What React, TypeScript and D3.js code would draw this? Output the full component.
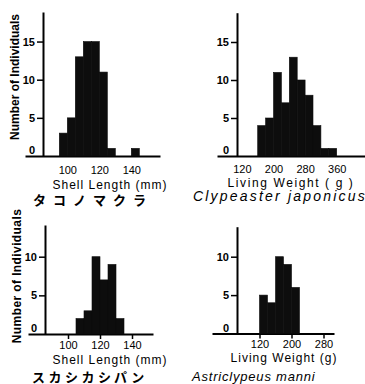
import React, { useEffect, useRef } from 'react'
import { select, scaleLinear, axisLeft, axisBottom } from 'd3'

// タコノマクラ - shell length (mm), 5 mm classes
const takoBins = [95, 100, 105, 110, 115, 120, 125, 130, 135, 140]
const takoCounts = [3, 5, 13, 15, 15, 11, 1, 0, 0, 1]
const takoTicks = [100, 120, 140]

// Clypeaster japonicus - living weight (g), 20 g classes
const clypeBins = [160, 180, 200, 220, 240, 260, 280, 300, 320, 340]
const clypeCounts = [4, 5, 11, 7, 13, 10, 8, 4, 1, 1]
const clypeTicks = [120, 200, 280, 360]

// スカシカシパン - shell length (mm)
const sukaBins = [105, 110, 115, 120, 125, 130]
const sukaCounts = [2, 3, 10, 7, 9, 2]
const sukaTicks = [100, 120, 140]

// Astriclypeus manni - living weight (g)
const astriBins = [120, 140, 160, 180, 200]
const astriCounts = [5, 4, 10, 9, 6]
const astriTicks = [120, 200, 280]

const topCountTicks = [0, 5, 10, 15]
const bottomCountTicks = [0, 5, 10]

const FONT = 'Arial, "Liberation Sans", sans-serif'
const JP = '"Noto Sans CJK JP", sans-serif'
const INK = '#0d0d0d'

const Hist = (props) => {
  const { bins, counts, binWidth, xTicks, yTicks, frame } = props
  const ref = useRef()

  useEffect(() => {
    const g = select(ref.current)
    const f = frame

    // calibrate on two known values, then stretch out to the drawn axis length
    const x = scaleLinear().domain(f.xCal).range(f.pxCal)
    x.domain([x.invert(f.left), x.invert(f.right)]).range([f.left, f.right])

    const y = scaleLinear().domain([0, 10]).range([f.y0, f.y0 - 10 * f.yUnit])
    y.domain([0, y.invert(f.top)]).range([f.y0, f.top])

    g.selectAll('.bar')
      .data(counts)
      .join('rect')
      .attr('class', 'bar')
      .attr('x', (d, i) => x(bins[i]))
      .attr('width', (d, i) => x(bins[i] + binWidth) - x(bins[i]))
      .attr('y', d => y(d))
      .attr('height', d => y(0) - y(d))
      .attr('fill', INK)
      .attr('stroke', d => (d > 0 ? INK : 'none'))
      .attr('stroke-width', 0.6)

    const xAxis = axisBottom(x).tickValues(xTicks).tickSize(f.xTickSize).tickSizeOuter(0).tickPadding(f.xPad)
    const xg = g.select('.x-axis')
      .attr('transform', `translate(0,${f.y0})`)
      .call(xAxis)
    xg.select('.domain').attr('stroke', '#000').attr('stroke-width', 2)
    xg.selectAll('.tick line').attr('stroke', '#000').attr('stroke-width', 1.5)
    xg.selectAll('.tick text')
      .attr('fill', '#000')
      .style('font-family', FONT)
      .style('font-size', '11px')
    xg.attr('font-family', null).attr('font-size', null)

    const yAxis = axisLeft(y).tickValues(yTicks).tickSize(6).tickSizeOuter(0).tickPadding(2)
    const yg = g.select('.y-axis')
      .attr('transform', `translate(${f.axisX},0)`)
      .call(yAxis)
    yg.select('.domain').attr('stroke', '#000').attr('stroke-width', 2)
    yg.selectAll('.tick line').attr('stroke', '#000').attr('stroke-width', 1.5)
    yg.selectAll('.tick text')
      .attr('fill', '#000')
      .style('font-family', FONT)
      .style('font-size', '11px')
      .style('font-weight', 'bold')
    yg.attr('font-family', null).attr('font-size', null)
    // the zero label sits above the baseline, with no tick
    const zero = yg.selectAll('.tick').filter(d => d === 0)
    zero.select('line').remove()
    zero.select('text').attr('y', -6)
  }, [bins, counts, binWidth, xTicks, yTicks, frame])

  return (
    <g ref={ref}>
      <g className='x-axis' />
      <g className='y-axis' />
    </g>
  )
}

const frames = {
  tl: { left: 25, right: 160, axisX: 43, xCal: [95, 145], pxCal: [59.3, 139.3], y0: 156, yUnit: 7.63, top: 12, xTickSize: 0, xPad: 10 },
  tr: { left: 217, right: 365, axisX: 237, xCal: [160, 360], pxCal: [257.7, 336.7], y0: 156, yUnit: 7.6, top: 12.7, xTickSize: 0, xPad: 9 },
  bl: { left: 28, right: 153, axisX: 45, xCal: [100, 140], pxCal: [68, 132], y0: 334, yUnit: 7.73, top: 225, xTickSize: 5, xPad: 2 },
  br: { left: 212, right: 334, axisX: 237, xCal: [120, 220], pxCal: [259.5, 299.5], y0: 333.5, yUnit: 7.68, top: 226.7, xTickSize: 5, xPad: 2 },
}

const App = () => {
  const axisTitle = { fontFamily: FONT, fontSize: 12, letterSpacing: 1, fill: '#000' }
  const yTitle = { fontFamily: FONT, fontSize: 12, fontWeight: 'bold', fill: '#000' }
  const latin = { fontFamily: FONT, fontSize: 14, fontStyle: 'italic', fill: '#000' }
  const kana = { fontFamily: JP, fontSize: 13, fontWeight: 'bold', fill: '#000' }

  return (
    <svg width={365} height={384} style={{ position: 'absolute', left: 0, top: 0, background: '#fff' }}>
      <rect width={365} height={384} fill='#fff' />

      <Hist bins={takoBins} counts={takoCounts} binWidth={5} xTicks={takoTicks} yTicks={topCountTicks} frame={frames.tl} />
      <Hist bins={clypeBins} counts={clypeCounts} binWidth={20} xTicks={clypeTicks} yTicks={topCountTicks} frame={frames.tr} />
      <Hist bins={sukaBins} counts={sukaCounts} binWidth={5} xTicks={sukaTicks} yTicks={bottomCountTicks} frame={frames.bl} />
      <Hist bins={astriBins} counts={astriCounts} binWidth={20} xTicks={astriTicks} yTicks={bottomCountTicks} frame={frames.br} />

      <text transform='translate(19,77) rotate(-90)' textAnchor='middle' style={yTitle}>Number of Individuals</text>
      <text transform='translate(21,276) rotate(-90)' textAnchor='middle' style={{ ...yTitle, letterSpacing: 0.4 }}>Number of Individuals</text>

      <text x={110} y={189} textAnchor='middle' style={axisTitle}>Shell Length (mm)</text>
      <text x={291} y={187} textAnchor='middle' style={{ ...axisTitle, letterSpacing: 1.6 }}>Living Weight ( g )</text>
      <text x={110} y={364} textAnchor='middle' style={axisTitle}>Shell Length (mm)</text>
      <text x={284} y={362} textAnchor='middle' style={axisTitle}>Living Weight (g)</text>

      <text x={33} y={205} style={{ ...kana, letterSpacing: 7 }}>タコノマクラ</text>
      <text x={193} y={201} style={{ ...latin, letterSpacing: 2.2 }}>Clypeaster  japonicus</text>
      <text x={32} y={382} style={{ ...kana, letterSpacing: 3.5 }}>スカシカシパン</text>
      <text x={192} y={381} style={{ ...latin, fontSize: 13, letterSpacing: 0.8 }}>Astriclypeus  manni</text>
    </svg>
  )
}

export default App
